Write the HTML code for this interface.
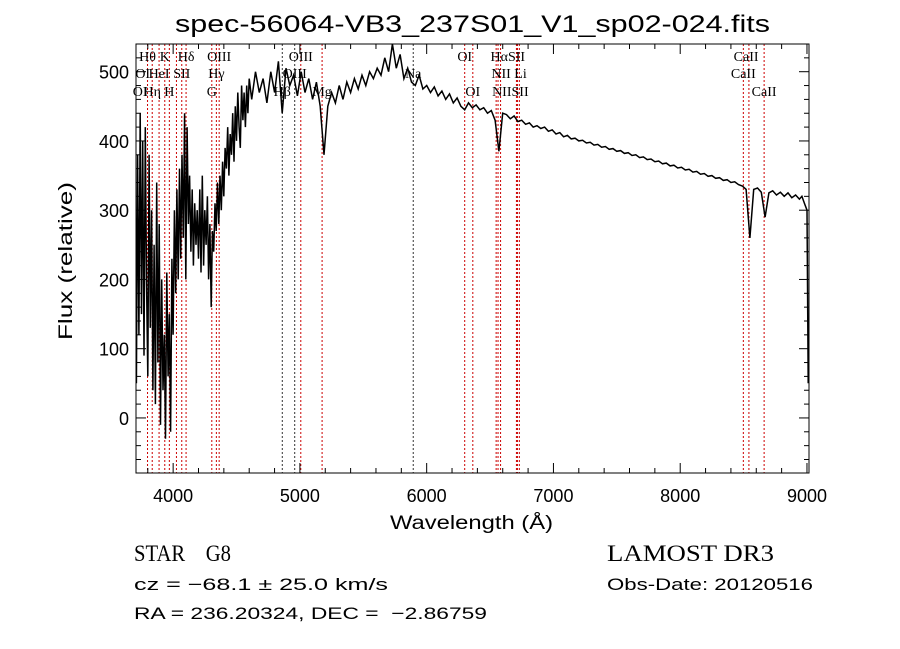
<!DOCTYPE html>
<html><head><meta charset="utf-8"><style>
body{margin:0;background:#fff;width:900px;height:649px;overflow:hidden}
svg{display:block}
.t{font-family:"Liberation Sans",sans-serif;fill:#000}
.s{font-family:"Liberation Serif",serif;fill:#000}
</style></head><body>
<svg id="chart" width="900" height="649" xmlns="http://www.w3.org/2000/svg">
<rect width="900" height="649" fill="#fff"/>
<text class="t" x="175" y="32" font-size="24" textLength="595" lengthAdjust="spacingAndGlyphs">spec-56064-VB3_237S01_V1_sp02-024.fits</text>
<text class="t" x="390" y="529" font-size="19" textLength="163" lengthAdjust="spacingAndGlyphs">Wavelength (Å)</text>
<text class="t" x="0" y="0" font-size="19" textLength="158" lengthAdjust="spacingAndGlyphs" transform="translate(72 340) rotate(-90)">Flux (relative)</text>
<text class="s" x="134" y="561" font-size="23" textLength="97" lengthAdjust="spacingAndGlyphs" xml:space="preserve" style="white-space:pre">STAR    G8</text>
<text class="s" x="607" y="561" font-size="23" textLength="167" lengthAdjust="spacingAndGlyphs">LAMOST DR3</text>
<text class="t" x="134" y="590" font-size="17" textLength="254" lengthAdjust="spacingAndGlyphs">cz = −68.1 ± 25.0 km/s</text>
<text class="t" x="607" y="590" font-size="17" textLength="206" lengthAdjust="spacingAndGlyphs">Obs-Date: 20120516</text>
<text class="t" x="134" y="619" font-size="17" textLength="353" lengthAdjust="spacingAndGlyphs" xml:space="preserve" style="white-space:pre">RA = 236.20324, DEC =  −2.86759</text>
<g id="plot"></g>
</svg>
<script>
const xTicks=[4000,5000,6000,7000,8000,9000];
const yTicks=[0,100,200,300,400,500];
const blueStart=3710, blueStep=10;
const blueFlux=[50,380,120,440,150,400,90,420,200,60,380,130,300,40,250,20,340,80,280,-10,200,40,120,-30,210,60,150,-20,230,120,300,180,330,200,360,230,380,260,440,200,420,280,350,240,330,220,310,250,300,230,330,210,350,220,300,250,320,200,280,160,270,240,310,270,340,280,350,300,370,320,390,360,420,350,410,380,440,370,450,400,470,420,390,480,430,470,420,480,440,490];
const redWave=[4620,4650,4680,4710,4740,4770,4800,4830,4860,4890,4920,4950,4980,5010,5040,5070,5100,5130,5160,5190,5220,5250,5280,5310,5340,5370,5400,5430,5460,5490,5520,5550,5580,5610,5640,5670,5700,5730,5760,5790,5820,5850,5880,5910,5940,5970,6000,6030,6060,6090,6120,6150,6180,6210,6240,6270,6300,6330,6360,6390,6420,6450,6480,6510,6540,6570,6600,6630,6660,6690,6720,6750,6780,6810,6840,6870,6900,6930,6960,6990,7020,7050,7080,7110,7140,7170,7200,7230,7260,7290,7320,7350,7380,7410,7440,7470,7500,7530,7560,7590,7620,7650,7680,7710,7740,7770,7800,7830,7860,7890,7920,7950,7980,8010,8040,8070,8100,8130,8160,8190,8220,8250,8280,8310,8340,8370,8400,8430,8460,8490,8520,8550,8580,8610,8640,8670,8700,8730,8760,8790,8820,8850,8880,8910,8940,8960,8980,9000,9010];
const redFlux=[460,500,470,490,455,500,470,515,440,505,480,495,465,500,470,490,460,485,450,380,450,470,455,480,460,485,470,490,475,495,480,500,490,505,495,520,500,540,505,525,490,505,485,480,495,475,480,470,478,465,472,460,468,455,462,450,445,455,448,452,445,448,440,444,430,385,440,438,432,436,428,430,424,426,420,422,418,420,414,416,410,412,406,408,403,404,400,401,397,398,394,395,391,392,388,389,385,386,382,383,379,380,376,377,373,374,370,371,367,368,364,365,361,362,358,359,355,356,352,353,349,350,346,347,343,344,340,341,337,335,330,260,330,332,326,290,325,328,322,326,320,325,318,322,316,320,310,300,50];
const lineWaves=[3798,3835,3889,3934,3970,4026,4068,4102,4305,4341,4363,4861,4959,5007,5175,5894,6300,6364,6548,6563,6583,6708,6716,6731,8498,8542,8662];
const lineRed=[1,1,1,1,1,1,1,1,1,1,1,0,0,1,1,0,1,1,1,1,1,1,1,1,1,1,1];
const lineLabels=[["Hθ",3798,60],["K",3934,60],["Hδ",4102,60],["OIII",4363,60],["OIII",5007,60],["OI",6300,60],["HαSII",6640,60],["CaII",8520,60],["OI",3760,77],["HeI",3889,77],["SII",4068,77],["Hγ",4341,77],["OIII",4959,77],["NII Li",6650,77],["CaII",8498,77],["OI",3740,95],["Hη",3835,95],["H",3970,95],["G",4305,95],["Hβ",4861,95],["Mg",5175,95],["Na",5894,77],["OI",6364,95],["NIISII",6660,95],["CaII",8662,95]];
const X0=136,X1=809,Y0=44,Y1=473,WMIN=3707,WMAX=9016,FMIN=-79.5,FMAX=540;
const xs=w=>X0+(w-WMIN)/(WMAX-WMIN)*(X1-X0);
const ys=f=>Y1-(f-FMIN)/(FMAX-FMIN)*(Y1-Y0);
const NS="http://www.w3.org/2000/svg";
const g=document.getElementById('plot');
function mk(tag,at){const e=document.createElementNS(NS,tag);for(const k in at)e.setAttribute(k,at[k]);g.appendChild(e);return e;}
lineWaves.forEach((w,i)=>{
 const e=mk('line',{x1:xs(w),x2:xs(w),y1:Y0,y2:Y1,stroke:lineRed[i]?'#c00':'#333','stroke-width':1,'stroke-dasharray':'2,2'});
 
 
});
lineLabels.forEach(l=>{
 const e=mk('text',{x:xs(l[1]),y:l[2]+1,'font-size':14,'text-anchor':'middle',class:'s'});
 e.textContent=l[0];
 
 
});
let pts=[];
blueFlux.forEach((f,i)=>pts.push(xs(blueStart+i*blueStep).toFixed(1)+','+ys(f).toFixed(1)));
redWave.forEach((w,i)=>pts.push(xs(w).toFixed(1)+','+ys(redFlux[i]).toFixed(1)));
const cp=document.createElementNS(NS,'clipPath');cp.setAttribute('id','clip');
const cr=document.createElementNS(NS,'rect');cr.setAttribute('x',X0);cr.setAttribute('y',Y0);cr.setAttribute('width',X1-X0);cr.setAttribute('height',Y1-Y0);cp.appendChild(cr);g.appendChild(cp);
const sp=mk('polyline',{points:pts.join(' '),fill:'none',stroke:'#000','stroke-width':1.5,'clip-path':'url(#clip)'});


const fr=mk('rect',{x:X0,y:Y0,width:X1-X0,height:Y1-Y0,fill:'none',stroke:'#000','stroke-width':1});


for(let w=3800;w<=9000;w+=200){const maj=w%1000===0;const L=maj?10:5;
 mk('line',{x1:xs(w),x2:xs(w),y1:Y1,y2:Y1-L,stroke:'#000'});mk('line',{x1:xs(w),x2:xs(w),y1:Y0,y2:Y0+L,stroke:'#000'});}
for(let f=-60;f<=540;f+=20){const maj=f%100===0;const L=maj?10:5;
 mk('line',{x1:X0,x2:X0+L,y1:ys(f),y2:ys(f),stroke:'#000'});mk('line',{x1:X1,x2:X1-L,y1:ys(f),y2:ys(f),stroke:'#000'});}
xTicks.forEach(w=>{const e=mk('text',{x:xs(w),y:502,'font-size':18,'text-anchor':'middle',class:'t'});e.textContent=w;
 
 });
yTicks.forEach(f=>{const e=mk('text',{x:129,y:ys(f)+7,'font-size':18,'text-anchor':'end',class:'t'});e.textContent=f;
 
 });
</script>
</body></html>
